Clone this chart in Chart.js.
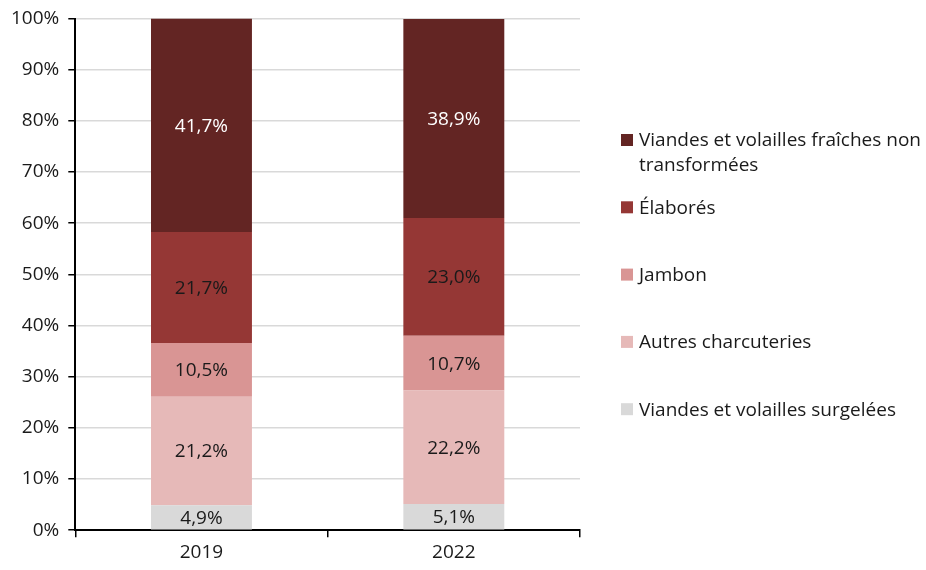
<!DOCTYPE html>
<html>
<head>
<meta charset="utf-8">
<script src="https://cdn.jsdelivr.net/npm/chart.js@4.4.1/dist/chart.umd.min.js"></script>
<style>
    html, body { margin: 0; padding: 0; background: #fff; }
    #wrap { width: 926px; height: 570px; }
</style>
</head>
<body>
<div id="wrap"><canvas id="chart"></canvas></div>
<script>
// ==================== DATA ====================

const years = ['2019', '2022'];

// series from bottom of the stack to the top
const seriesNames = [
    'Viandes et volailles surgelées',
    'Autres charcuteries',
    'Jambon',
    'Élaborés',
    'Viandes et volailles fraîches non transformées'
];
const surgelees = [4.9, 5.1];
const autresCharcuteries = [21.2, 22.2];
const jambon = [10.5, 10.7];
const elabores = [21.7, 23.0];
const fraiches = [41.7, 38.9];

const seriesColors = ['#d9d9d9', '#e6b9b8', '#d99594', '#953735', '#632523'];
const labelColors = ['#1a1a1a', '#1a1a1a', '#1a1a1a', '#1a1a1a', '#ffffff'];

const yTicks = [0, 10, 20, 30, 40, 50, 60, 70, 80, 90, 100];

const FONT = '"Open Sans"';
const FSIZE = 19;

// ==================== PLUGINS ====================

// value labels in the middle of every segment
const segmentLabels = {
    id: 'segmentLabels',
    afterDatasetsDraw(chart) {
        const ctx = chart.ctx;
        ctx.save();
        ctx.font = `${FSIZE}px ${FONT}`;
        ctx.textAlign = 'center';
        ctx.textBaseline = 'middle';
        chart.data.datasets.forEach((ds, i) => {
            const meta = chart.getDatasetMeta(i);
            meta.data.forEach((bar, j) => {
                const v = ds.data[j];
                const yMid = (bar.y + bar.base) / 2;
                ctx.fillStyle = labelColors[i];
                ctx.fillText(v.toFixed(1).replace('.', ',') + '%', bar.x, yMid + 1);
            });
        });
        ctx.restore();
    }
};

// legend on the right, top item is the top of the stack
const sideLegend = {
    id: 'sideLegend',
    afterDraw(chart) {
        const ctx = chart.ctx;
        const boxX = 621, textX = 639, firstY = 140, step = 67.3, lineH = 25;
        const maxW = chart.width - textX + 4;
        ctx.save();
        ctx.font = `${FSIZE}px ${FONT}`;
        ctx.textBaseline = 'middle';
        ctx.textAlign = 'left';
        const order = seriesNames.map((_, i) => i).reverse();
        order.forEach((si, k) => {
            const y = firstY + k * step;
            ctx.fillStyle = seriesColors[si];
            ctx.fillRect(boxX, y - 6, 12, 12);
            // simple word wrap
            const words = seriesNames[si].split(' ');
            const lines = [];
            let line = '';
            words.forEach(w => {
                const test = line ? line + ' ' + w : w;
                if (ctx.measureText(test).width > maxW && line) {
                    lines.push(line);
                    line = w;
                } else {
                    line = test;
                }
            });
            lines.push(line);
            ctx.fillStyle = '#1a1a1a';
            lines.forEach((l, n) => ctx.fillText(l, textX, y + 1 + n * lineH));
        });
        ctx.restore();
    }
};

// ==================== CHART ====================

const values = [surgelees, autresCharcuteries, jambon, elabores, fraiches];

new Chart(document.getElementById('chart'), {
    type: 'bar',
    data: {
        labels: years,
        datasets: seriesNames.map((name, i) => ({
            label: name,
            data: values[i],
            backgroundColor: seriesColors[i],
            borderWidth: 0,
            categoryPercentage: 1,
            barPercentage: 0.4
        }))
    },
    options: {
        responsive: true,
        maintainAspectRatio: false,
        animation: false,
        layout: {
            padding: { left: 2, right: 346, top: 18, bottom: 2 }
        },
        plugins: {
            legend: { display: false },
            tooltip: { enabled: false }
        },
        scales: {
            x: {
                stacked: true,
                grid: {
                    offset: true,
                    drawOnChartArea: false,
                    drawTicks: true,
                    tickLength: 7,
                    tickColor: '#000',
                    lineWidth: 1.5
                },
                border: { color: '#000', width: 2 },
                ticks: {
                    color: '#1a1a1a',
                    font: { family: FONT, size: FSIZE },
                    padding: 4
                }
            },
            y: {
                stacked: true,
                min: 0,
                max: 100,
                afterBuildTicks(axis) {
                    axis.ticks = yTicks.map(v => ({ value: v }));
                },
                grid: {
                    color: '#d9d9d9',
                    lineWidth: 1.5,
                    tickLength: 7,
                    tickColor: '#000'
                },
                border: { color: '#000', width: 2 },
                ticks: {
                    color: '#1a1a1a',
                    font: { family: FONT, size: FSIZE, lineHeight: 1 },
                    padding: 9,
                    callback: v => v + '%'
                }
            }
        }
    },
    plugins: [segmentLabels, sideLegend]
});
</script>
</body>
</html>
